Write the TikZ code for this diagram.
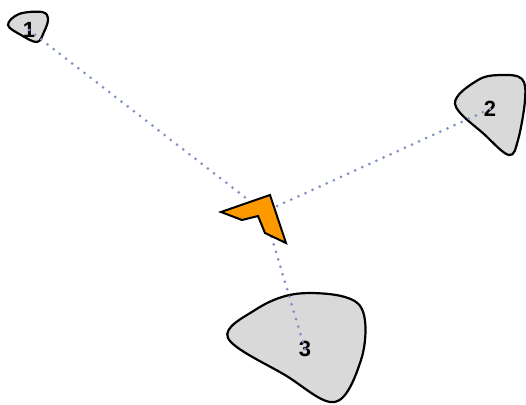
\documentclass[tikz,border=0pt]{standalone}
\usepackage{fontspec}
\setmainfont{Liberation Sans}
\definecolor{blobfill}{RGB}{217,217,217}
\definecolor{arrowfill}{RGB}{255,153,0}
\definecolor{dotcol}{RGB}{128,144,190}
\begin{document}
\begin{tikzpicture}[x=1pt,y=-1pt,
  blob/.style={draw=black, line width=2.2pt, fill=blobfill},
  dotline/.style={draw=dotcol, line width=3pt, line cap=round, dash pattern=on 0pt off 7.8pt},
  lbl/.style={font=\bfseries\fontsize{22}{22}\selectfont, inner sep=0pt},
  pointer/.style={draw=black, line width=2pt, fill=arrowfill, line join=miter}
]
\useasboundingbox (0,0) rectangle (526,404);
% blobs
\draw[blob] plot[smooth cycle, tension=0.6] coordinates {(8,25) (19,14) (42,12) (48,19) (44,32) (37,42) (21,35)};
\draw[blob] plot[smooth cycle, tension=0.6] coordinates {(455,104) (478,80) (502,75) (522,79) (525,100) (518,140) (509,155) (485,135)};
\draw[blob] plot[smooth cycle, tension=0.6] coordinates {(228,338) (255,310) (295,294) (345,297) (364,315) (361,360) (335,402) (285,375)};
% labels
\node[lbl] (n1) at (29,30) {1};
\node[lbl] (n2) at (490,109) {2};
\node[lbl] (n3) at (305,349) {3};
\coordinate (hub) at (264,212);
% connectors
\draw[dotline] (n1.center) -- (hub);
\draw[dotline] (n2.center) -- (hub);
\draw[dotline] (n3.center) -- (hub);
% pointer
\draw[pointer] (221,212) -- (270,195) -- (286,243) -- (265,233) -- (258,216) -- (242,220) -- cycle;
\end{tikzpicture}
\end{document}
